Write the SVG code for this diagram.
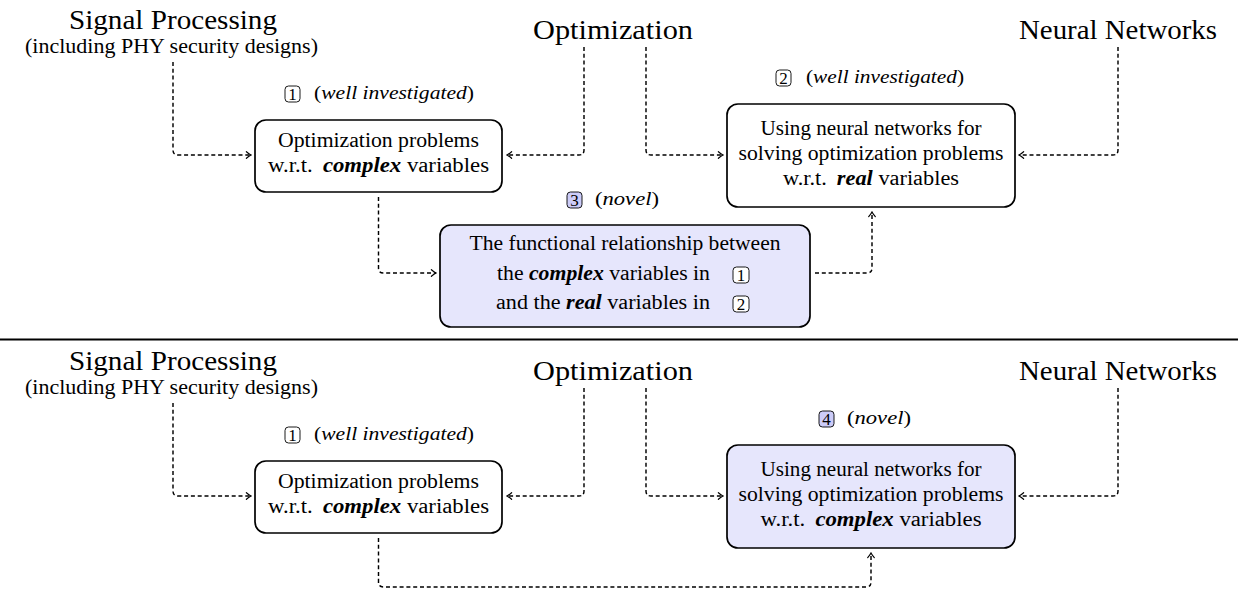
<svg xmlns="http://www.w3.org/2000/svg" width="1238" height="601" viewBox="0 0 1238 601">
<defs>
<style>
text { font-family: "Liberation Serif", "DejaVu Serif", serif; fill: #000; }
.title { font-size: 27px; }
.sub { font-size: 20px; }
.body { font-size: 20px; }
.lbl { font-size: 19px; }
.num { font-size: 17px; text-anchor: middle; }
.mid { text-anchor: middle; }
.end { text-anchor: end; }
.it { font-style: italic; }
.bi { font-style: italic; font-weight: bold; }
.node { fill: #ffffff; stroke: #000; stroke-width: 1.7; }
.node.hi { fill: #e6e6fc; }
.tag { fill: #ffffff; stroke: #000; stroke-width: 0.9; }
.tag.hi { fill: #ccccf8; }
.conn path { fill: none; stroke: #000; stroke-width: 1.45; stroke-dasharray: 4 2.8; marker-end: url(#arr); }
.rule { stroke: #000; stroke-width: 1.8; }
</style>
<marker id="arr" markerUnits="userSpaceOnUse" viewBox="-7 -5 8 10" markerWidth="8" markerHeight="10" refX="0" refY="0" orient="auto">
<path d="M-4.6,-3.3 Q-1.8,-0.9 0,0 Q-1.8,0.9 -4.6,3.3" fill="none" stroke="#000" stroke-width="1.2" stroke-linecap="round"/>
</marker>
</defs>

<rect width="1238" height="601" fill="#ffffff"/>

<!-- ===== upper panel ===== -->
<g id="src-sp-a">
<text class="title mid" x="173" y="29" textLength="208" lengthAdjust="spacingAndGlyphs">Signal Processing</text>
<text class="sub mid" x="171.5" y="53" textLength="293" lengthAdjust="spacingAndGlyphs">(including PHY security designs)</text>
</g>
<g id="src-opt-a">
<text class="title mid" x="613" y="39" textLength="160" lengthAdjust="spacingAndGlyphs">Optimization</text>
</g>
<g id="src-nn-a">
<text class="title mid" x="1118" y="39" textLength="198" lengthAdjust="spacingAndGlyphs">Neural Networks</text>
</g>

<g id="box1-a">
<rect class="tag" x="285" y="86" width="15" height="16" rx="3.5"/>
<text class="num" x="292.5" y="100">1</text>
<text class="lbl" x="314" y="99" textLength="160" lengthAdjust="spacingAndGlyphs">(<tspan class="it">well investigated</tspan>)</text>
<rect class="node" x="255" y="120" width="247" height="72" rx="11"/>
<text class="body mid" x="378.5" y="147" textLength="201" lengthAdjust="spacingAndGlyphs">Optimization problems</text>
<text class="body mid" x="378.5" y="172" textLength="221" lengthAdjust="spacingAndGlyphs">w.r.t.<tspan class="bi" dx="4"> complex</tspan> variables</text>
</g>

<g id="box2-a">
<rect class="tag" x="776" y="70" width="15" height="16" rx="3.5"/>
<text class="num" x="783.5" y="84">2</text>
<text class="lbl" x="806" y="83" textLength="158" lengthAdjust="spacingAndGlyphs">(<tspan class="it">well investigated</tspan>)</text>
<rect class="node" x="727" y="104" width="288" height="103" rx="11"/>
<text class="body mid" x="871" y="135" textLength="221" lengthAdjust="spacingAndGlyphs">Using neural networks for</text>
<text class="body mid" x="871" y="160" textLength="265" lengthAdjust="spacingAndGlyphs">solving optimization problems</text>
<text class="body mid" x="871" y="185" textLength="176" lengthAdjust="spacingAndGlyphs">w.r.t.<tspan class="bi" dx="4"> real</tspan> variables</text>
</g>

<g id="box3-a">
<rect class="tag hi" x="567" y="192" width="15" height="16" rx="3.5"/>
<text class="num" x="574.5" y="206">3</text>
<text class="lbl" x="595" y="205" textLength="64" lengthAdjust="spacingAndGlyphs">(<tspan class="it">novel</tspan>)</text>
<rect class="node hi" x="440" y="225" width="370" height="102" rx="11"/>
<text class="body mid" x="625" y="250" textLength="311" lengthAdjust="spacingAndGlyphs">The functional relationship between</text>
<text class="body end" x="710" y="280" textLength="213" lengthAdjust="spacingAndGlyphs">the <tspan class="bi">complex</tspan> variables in</text>
<rect class="tag" x="733" y="267" width="16" height="16" rx="3.5"/>
<text class="num" x="741" y="281">1</text>
<text class="body end" x="710" y="309" textLength="214" lengthAdjust="spacingAndGlyphs">and the <tspan class="bi">real</tspan> variables in</text>
<rect class="tag" x="733" y="296" width="16" height="16" rx="3.5"/>
<text class="num" x="741" y="310">2</text>
</g>

<line class="rule" x1="0" y1="339.5" x2="1238" y2="339.5"/>

<!-- ===== lower panel ===== -->
<g id="src-sp-b">
<text class="title mid" x="173" y="370" textLength="208" lengthAdjust="spacingAndGlyphs">Signal Processing</text>
<text class="sub mid" x="171.5" y="394" textLength="293" lengthAdjust="spacingAndGlyphs">(including PHY security designs)</text>
</g>
<g id="src-opt-b">
<text class="title mid" x="613" y="380" textLength="160" lengthAdjust="spacingAndGlyphs">Optimization</text>
</g>
<g id="src-nn-b">
<text class="title mid" x="1118" y="380" textLength="198" lengthAdjust="spacingAndGlyphs">Neural Networks</text>
</g>

<g id="box1-b">
<rect class="tag" x="285" y="427" width="15" height="16" rx="3.5"/>
<text class="num" x="292.5" y="441">1</text>
<text class="lbl" x="314" y="440" textLength="160" lengthAdjust="spacingAndGlyphs">(<tspan class="it">well investigated</tspan>)</text>
<rect class="node" x="255" y="461" width="247" height="72" rx="11"/>
<text class="body mid" x="378.5" y="488" textLength="201" lengthAdjust="spacingAndGlyphs">Optimization problems</text>
<text class="body mid" x="378.5" y="513" textLength="221" lengthAdjust="spacingAndGlyphs">w.r.t.<tspan class="bi" dx="4"> complex</tspan> variables</text>
</g>

<g id="box4-b">
<rect class="tag hi" x="819" y="411" width="15" height="16" rx="3.5"/>
<text class="num" x="826.5" y="425">4</text>
<text class="lbl" x="847" y="424" textLength="64" lengthAdjust="spacingAndGlyphs">(<tspan class="it">novel</tspan>)</text>
<rect class="node hi" x="727" y="445" width="288" height="103" rx="11"/>
<text class="body mid" x="871" y="476" textLength="221" lengthAdjust="spacingAndGlyphs">Using neural networks for</text>
<text class="body mid" x="871" y="501" textLength="265" lengthAdjust="spacingAndGlyphs">solving optimization problems</text>
<text class="body mid" x="871" y="526" textLength="221" lengthAdjust="spacingAndGlyphs">w.r.t.<tspan class="bi" dx="4"> complex</tspan> variables</text>
</g>

<!-- dashed connectors -->
<g id="connectors" class="conn">
<path d="M173,62 V150 Q173,155 178,155 H251"/>
<path d="M584,47 V150 Q584,155 579,155 H507"/>
<path d="M646,47 V150 Q646,155 651,155 H723"/>
<path d="M1118,47 V150 Q1118,155 1113,155 H1019"/>
<path d="M378.5,197 V268 Q378.5,273 383.5,273 H436"/>
<path d="M815,273 H867 Q872,273 872,268 V212"/>
<path d="M173,403 V491 Q173,496 178,496 H251"/>
<path d="M584,388 V491 Q584,496 579,496 H507"/>
<path d="M646,388 V491 Q646,496 651,496 H723"/>
<path d="M1118,388 V491 Q1118,496 1113,496 H1019"/>
<path d="M378.5,538 V582 Q378.5,587 383.5,587 H866 Q871,587 871,582 V553"/>
</g>
</svg>
